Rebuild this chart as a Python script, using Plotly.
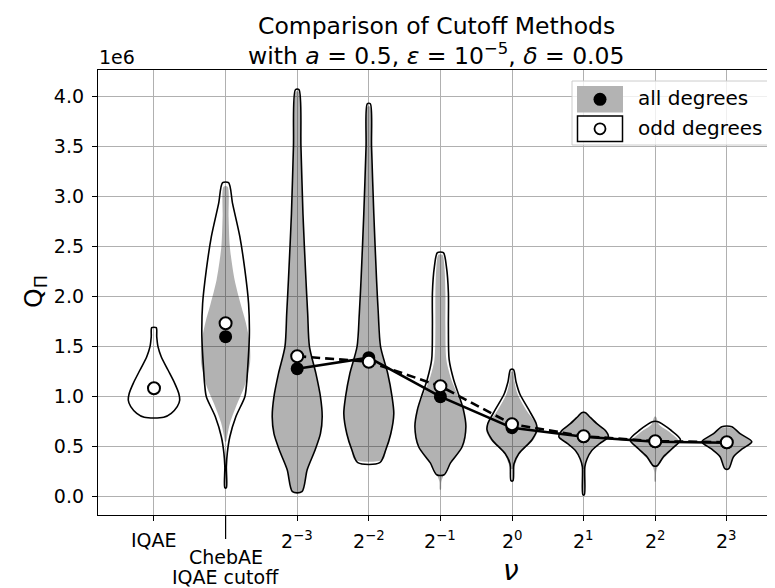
import plotly.graph_objects as go

# ---------------- data (values in units of 1e6) ----------------
categories = ["IQAE", "ChebAE IQAE cutoff", "2^-3", "2^-2", "2^-1", "2^0", "2^1", "2^2", "2^3"]
tick_labels = ["IQAE", "ChebAE<br>IQAE cutoff", "2<sup>−3</sup>", "2<sup>−2</sup>", "2<sup>−1</sup>",
               "2<sup>0</sup>", "2<sup>1</sup>", "2<sup>2</sup>", "2<sup>3</sup>"]
y_ticks = [0.0, 0.5, 1.0, 1.5, 2.0, 2.5, 3.0, 3.5, 4.0]

mean_all = [None, 1.60, 1.28, 1.39, 1.00, 0.69, 0.60, 0.55, 0.54]
mean_odd = [1.085, 1.735, 1.405, 1.35, 1.105, 0.725, 0.605, 0.555, 0.545]

# violin profiles: levels (Q in 1e6) and relative density (half-width)
odd_levels = [
    [0.794, 0.834, 0.90, 0.967, 1.034, 1.134, 1.267, 1.40, 1.50, 1.60, 1.69],
    [0.09, 0.30, 0.44, 0.60, 0.80, 1.00, 1.13, 1.27, 1.60, 1.93, 2.27, 2.60, 2.93, 3.14],
    [0.05, 0.27, 0.47, 0.63, 0.80, 1.00, 1.23, 1.50, 1.83, 2.17, 2.83, 3.50, 4.07],
    [0.34, 0.47, 0.63, 0.83, 1.00, 1.23, 1.50, 1.83, 2.17, 2.83, 3.50, 3.93],
    [0.22, 0.34, 0.50, 0.70, 0.87, 1.00, 1.17, 1.37, 1.70, 2.04, 2.30, 2.44],
    [0.16, 0.33, 0.43, 0.57, 0.67, 0.73, 0.87, 1.03, 1.15, 1.27],
    [0.02, 0.30, 0.38, 0.46, 0.53, 0.60, 0.66, 0.73, 0.80, 0.84],
    [0.31, 0.40, 0.48, 0.57, 0.67, 0.72, 0.75],
    [0.28, 0.40, 0.48, 0.55, 0.63, 0.70],
]
odd_density = [
    [0.39, 0.69, 0.93, 1.03, 0.99, 0.83, 0.56, 0.29, 0.16, 0.11, 0.09],
    [0.03, 0.03, 0.07, 0.17, 0.41, 0.77, 0.84, 0.88, 0.95, 0.92, 0.77, 0.57, 0.28, 0.12],
    [0.19, 0.40, 0.72, 0.93, 1.00, 0.93, 0.75, 0.49, 0.42, 0.35, 0.23, 0.15, 0.07],
    [0.44, 0.68, 0.88, 1.00, 0.93, 0.76, 0.47, 0.38, 0.31, 0.20, 0.11, 0.06],
    [0.15, 0.41, 0.87, 1.02, 0.92, 0.76, 0.53, 0.35, 0.32, 0.32, 0.24, 0.12],
    [0.04, 0.08, 0.27, 0.80, 1.00, 0.97, 0.67, 0.31, 0.16, 0.06],
    [0.03, 0.05, 0.14, 0.32, 0.64, 0.99, 0.88, 0.53, 0.24, 0.08],
    [0.08, 0.33, 0.67, 1.01, 0.60, 0.32, 0.12],
    [0.08, 0.27, 0.63, 1.00, 0.53, 0.20],
]
all_levels = [
    None,
    [0.55, 0.60, 0.74, 0.94, 1.10, 1.34, 1.55, 1.75, 1.93, 2.17, 2.50, 2.80, 3.10],
    [0.05, 0.27, 0.47, 0.63, 0.80, 1.00, 1.23, 1.50, 1.83, 2.17, 2.83, 3.50, 4.05],
    [0.37, 0.47, 0.63, 0.83, 1.00, 1.23, 1.50, 1.83, 2.17, 2.83, 3.50, 3.90],
    [0.07, 0.15, 0.22, 0.34, 0.50, 0.70, 0.87, 1.00, 1.17, 1.37, 1.70, 2.04, 2.30, 2.42],
    [0.28, 0.43, 0.57, 0.67, 0.73, 0.87, 1.03, 1.15, 1.25],
    [0.28, 0.38, 0.46, 0.53, 0.60, 0.66, 0.73, 0.80, 0.85],
    [0.15, 0.25, 0.33, 0.40, 0.48, 0.55, 0.65, 0.72, 0.80],
    [0.28, 0.40, 0.48, 0.55, 0.63, 0.69],
]
all_density = [
    None,
    [0.02, 0.06, 0.18, 0.48, 0.75, 0.98, 0.96, 0.80, 0.60, 0.36, 0.17, 0.12, 0.08],
    [0.18, 0.39, 0.71, 0.92, 0.99, 0.92, 0.74, 0.48, 0.41, 0.34, 0.22, 0.14, 0.06],
    [0.56, 0.70, 0.89, 1.00, 0.92, 0.74, 0.45, 0.36, 0.30, 0.19, 0.10, 0.05],
    [0.02, 0.04, 0.14, 0.40, 0.86, 1.01, 0.90, 0.72, 0.44, 0.24, 0.20, 0.20, 0.16, 0.08],
    [0.04, 0.30, 0.86, 1.04, 0.96, 0.56, 0.22, 0.10, 0.04],
    [0.04, 0.12, 0.28, 0.58, 0.97, 0.88, 0.56, 0.26, 0.06],
    [0.02, 0.04, 0.14, 0.40, 0.72, 0.96, 0.56, 0.16, 0.03],
    [0.08, 0.26, 0.62, 0.98, 0.52, 0.18],
]

# ---------------- style / geometry ----------------
FONT = "DejaVu Sans"
OFF = 8                                          # page body margin of the browser
W, H = 775 - OFF, 588 - OFF
RX0, RX1, RY0, RY1 = 98, 775, 70, 515            # plot area in window pixels
XR = [-0.782, 8.673]
YR = [-0.183, 4.267]
HALF = 0.349                                     # max violin half width (category units)
GRAY = "rgba(0,0,0,0.3)"


def pxx(px):
    return (px - RX0) / (RX1 - RX0)


def pxy(py):
    return (RY1 - py) / (RY1 - RY0)


def violin_path(center, levels, dens):
    xs = [center + d * HALF for d in dens] + [center - d * HALF for d in reversed(dens)]
    ys = list(levels) + list(reversed(levels))
    xs.append(xs[0])
    ys.append(ys[0])
    return xs, ys


positions = list(range(len(categories)))
fig = go.Figure()

# all degrees (gray bodies)
for i in positions:
    if all_levels[i] is None:
        continue
    xs, ys = violin_path(i, all_levels[i], all_density[i])
    fig.add_trace(go.Scatter(x=xs, y=ys, mode="lines", fill="toself", fillcolor=GRAY,
                             line=dict(width=0, shape="spline", smoothing=0.8),
                             hoverinfo="skip"))

# odd degrees (outlined bodies)
for i in positions:
    xs, ys = violin_path(i, odd_levels[i], odd_density[i])
    fig.add_trace(go.Scatter(x=xs, y=ys, mode="lines",
                             line=dict(color="black", width=1.6, shape="spline", smoothing=0.8),
                             hoverinfo="skip"))

# connecting lines and markers
idx = positions[2:]
fig.add_trace(go.Scatter(x=idx, y=[mean_all[i] for i in idx], mode="lines",
                         line=dict(color="black", width=2.6)))
fig.add_trace(go.Scatter(x=[i for i in positions if mean_all[i] is not None],
                         y=[mean_all[i] for i in positions if mean_all[i] is not None],
                         mode="markers", marker=dict(color="black", size=13, line=dict(width=0))))
fig.add_trace(go.Scatter(x=idx, y=[mean_odd[i] for i in idx], mode="lines",
                         line=dict(color="black", width=2.6, dash="9px,5px")))
fig.add_trace(go.Scatter(x=positions, y=mean_odd, mode="markers",
                         marker=dict(color="white", size=12, line=dict(color="black", width=2))))

annotations = []
shapes = []
TICKFONT = dict(family=FONT, size=19, color="black")

# x tick labels
for i, lab in enumerate(tick_labels):
    if "<br>" in lab:
        for k, part in enumerate(lab.split("<br>")):
            annotations.append(dict(x=i, y=pxy(557 + 20 * k), xref="x", yref="paper", text=part,
                                    showarrow=False, xanchor="center", yanchor="middle", font=TICKFONT))
    else:
        annotations.append(dict(x=i, y=pxy(540), xref="x", yref="paper", text=lab,
                                showarrow=False, xanchor="center", yanchor="middle", font=TICKFONT))
# long tick for ChebAE
shapes.append(dict(type="line", xref="x", yref="paper", x0=1, x1=1, y0=pxy(515), y1=pxy(539),
                   line=dict(color="black", width=1.2)))

# axis labels, offset text, title
annotations.append(dict(x=pxx(511), y=pxy(570), xref="paper", yref="paper", text="<i>ν</i>",
                        showarrow=False, xanchor="center", yanchor="middle",
                        font=dict(family=FONT, size=28, color="black")))
annotations.append(dict(x=pxx(35), y=pxy(292), xref="paper", yref="paper", text="Q<sub>Π</sub>",
                        showarrow=False, xanchor="center", yanchor="middle", textangle=-90,
                        font=dict(family=FONT, size=25, color="black")))
annotations.append(dict(x=pxx(97), y=pxy(57), xref="paper", yref="paper", text="1e6",
                        showarrow=False, xanchor="left", yanchor="middle",
                        font=dict(family=FONT, size=19, color="black")))
annotations.append(dict(x=pxx(436), y=pxy(26), xref="paper", yref="paper",
                        text="Comparison of Cutoff Methods",
                        showarrow=False, xanchor="center", yanchor="middle",
                        font=dict(family=FONT, size=23.5, color="black")))
annotations.append(dict(x=pxx(436), y=pxy(54), xref="paper", yref="paper",
                        text="with <i>a</i> = 0.5, <i>ε</i> = 10<sup>−5</sup>, <i>δ</i> = 0.05",
                        showarrow=False, xanchor="center", yanchor="middle",
                        font=dict(family=FONT, size=23.5, color="black")))

# legend (drawn manually)
shapes.append(dict(type="rect", xref="paper", yref="paper", x0=pxx(572), x1=pxx(773), y0=pxy(81), y1=pxy(145),
                   fillcolor="rgba(255,255,255,0.8)", line=dict(color="#cccccc", width=1), layer="above"))
shapes.append(dict(type="rect", xref="paper", yref="paper", x0=pxx(577), x1=pxx(623), y0=pxy(86), y1=pxy(112.5),
                   fillcolor="#b3b3b3", line=dict(width=0), layer="above"))
shapes.append(dict(type="circle", xref="paper", yref="paper", x0=pxx(593.5), x1=pxx(606.5), y0=pxy(92.8), y1=pxy(105.8),
                   fillcolor="black", line=dict(width=0), layer="above"))
shapes.append(dict(type="rect", xref="paper", yref="paper", x0=pxx(577.5), x1=pxx(622.5), y0=pxy(116), y1=pxy(141.5),
                   fillcolor="white", line=dict(color="black", width=1.5), layer="above"))
shapes.append(dict(type="circle", xref="paper", yref="paper", x0=pxx(594.5), x1=pxx(605.5), y0=pxy(123.3), y1=pxy(134.3),
                   fillcolor="white", line=dict(color="black", width=1.8), layer="above"))
annotations.append(dict(x=pxx(636), y=pxy(98), xref="paper", yref="paper", text="all degrees",
                        showarrow=False, xanchor="left", yanchor="middle",
                        font=dict(family=FONT, size=20, color="black")))
annotations.append(dict(x=pxx(636), y=pxy(128), xref="paper", yref="paper", text="odd degrees",
                        showarrow=False, xanchor="left", yanchor="middle",
                        font=dict(family=FONT, size=20, color="black")))

fig.update_layout(
    width=W, height=H,
    margin=dict(l=RX0 - OFF, r=775 - RX1, t=RY0 - OFF, b=588 - RY1, pad=0),
    plot_bgcolor="white", paper_bgcolor="white",
    showlegend=False,
    annotations=annotations, shapes=shapes,
    xaxis=dict(range=XR, tickvals=positions, showticklabels=False, ticks="outside", ticklen=5,
               tickwidth=1.2, tickcolor="black", showgrid=True, gridcolor="#b0b0b0", gridwidth=1.2,
               showline=True, linecolor="black", linewidth=1.3, mirror=True, zeroline=False),
    yaxis=dict(range=YR, tickvals=y_ticks, ticktext=[f"{v:.1f}" for v in y_ticks], ticks="outside",
               ticklen=5, tickwidth=1.2, tickcolor="black", showgrid=True, gridcolor="#b0b0b0",
               gridwidth=1.2, showline=True, linecolor="black", linewidth=1.3, zeroline=False,
               ticklabelstandoff=4, tickfont=TICKFONT),
)

fig.write_html("out.html")
